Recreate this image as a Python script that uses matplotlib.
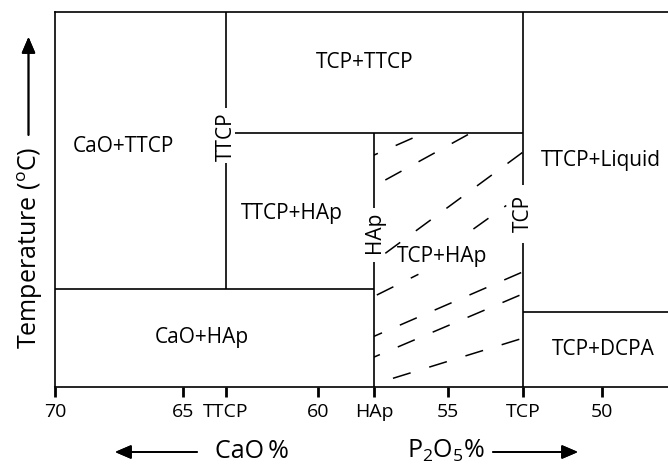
import matplotlib
matplotlib.use('Agg')
import matplotlib.pyplot as plt
from matplotlib.patches import Rectangle

plt.rcParams['font.family'] = ['Open Sans', 'DejaVu Sans']
plt.rcParams['mathtext.fontset'] = 'custom'
plt.rcParams['mathtext.rm'] = 'Open Sans'
plt.rcParams['lines.scale_dashes'] = False

# composition axis (CaO %, decreasing to the right) and schematic temperature axis
x_left, x_right = 70, 47.6
tick_pos = [70, 65.32, 63.75, 60.38, 58.34, 55.63, 52.89, 50]
tick_labels = ['70', '65', 'TTCP', '60', 'HAp', '55', 'TCP', '50']

x_ttcp, x_hap, x_tcp = 63.75, 58.34, 52.89
y_top = 100
y_ttcp_hap = 67.7      # TCP+TTCP / TTCP+HAp boundary
y_cao_hap = 26.1       # CaO+HAp upper boundary
y_tcp_dcpa = 20.0      # TCP+DCPA upper boundary

# vertical phase lines: (x, y_from, y_to, gap_from, gap_to, label, label_y)
verticals = [
    (x_ttcp, y_cao_hap, y_top, 59.7, 74.4, 'TTCP', 66.7),
    (x_hap, 0, y_ttcp_hap, 33.3, 47.7, 'HAp', 41.3),
    (x_tcp, 0, y_top, 38.4, 53.9, 'TCP', 46.4),
]
# horizontal phase lines: (y, x_from, x_to)
horizontals = [
    (y_ttcp_hap, 63.42, x_tcp),
    (y_cao_hap, x_left, x_hap),
    (y_tcp_dcpa, x_tcp, x_right),
]

regions = ['CaO+TTCP', 'TCP+TTCP', 'TTCP+HAp', 'TTCP+Liquid', 'TCP+HAp', 'CaO+HAp', 'TCP+DCPA']
region_x = [67.51, 58.70, 61.33, 50.07, 55.85, 64.63, 49.96]
region_y = [64.0, 86.4, 46.4, 60.5, 34.7, 13.3, 9.9]

# hatch strokes in the TCP+HAp field: (x0, y0, x1, y1)
hatch = [
    (57.65, 2.32, 53.00, 12.80),
    (58.75, 6.72, 52.94, 24.72),
    (58.67, 12.48, 52.94, 30.59),
    (58.24, 24.53, 56.72, 30.05),
    (57.93, 35.65, 52.88, 62.75),
    (54.71, 42.13, 53.51, 48.40),
    (57.93, 55.20, 54.89, 67.39),
    (58.82, 60.32, 56.90, 66.48),
]

fig = plt.figure(figsize=(6.68, 4.66), dpi=100)
ax = fig.add_axes([55 / 668, 79 / 466, 613 / 668, 375 / 466])
ax.set_xlim(x_left, x_right)
ax.set_ylim(0, y_top)

lw = 1.2
for side in ['left', 'bottom', 'top']:
    ax.spines[side].set_linewidth(lw)
ax.spines['right'].set_visible(False)
ax.set_yticks([])
ax.set_xticks(tick_pos)
ax.set_xticklabels(tick_labels, fontsize=14)
ax.tick_params(axis='x', direction='out', length=7.5, width=2, pad=4)

fs = 15
for x, y0, y1, g0, g1, lab, ly in verticals:
    ax.plot([x, x], [y0, g0], color='k', lw=lw, solid_capstyle='butt')
    ax.plot([x, x], [g1, y1], color='k', lw=lw, solid_capstyle='butt')
    ax.text(x, ly, lab, rotation=90, ha='center', va='center', fontsize=fs)
for y, x0, x1 in horizontals:
    ax.plot([x0, x1], [y, y], color='k', lw=lw, solid_capstyle='butt')

for lab, x, y in zip(regions, region_x, region_y):
    ax.text(x, y, lab, ha='center', va='center', fontsize=fs)

clip = Rectangle((x_tcp, 0), x_hap - x_tcp, y_ttcp_hap, transform=ax.transData, fill=False, lw=0)
ax.add_patch(clip)
for x0, y0, x1, y1 in hatch:
    ln, = ax.plot([x0, x1], [y0, y1], color='k', lw=1.1, dashes=(13.3, 14))
    ln.set_clip_path(clip)

# axis captions with arrows
fig.text(30 / 668, 1 - 248 / 466, r'Temperature ($\mathregular{^o}$C)', rotation=90,
         ha='center', va='center', fontsize=18)
fig.text(252 / 668, 1 - 451 / 466, 'CaO\u2009%', ha='center', va='center', fontsize=18)
fig.text(446 / 668, 1 - 451 / 466, r'P$\mathregular{_2}$O$\mathregular{_5}$%', ha='center',
         va='center', fontsize=18)
arrow = dict(arrowstyle='-|>,head_length=0.7,head_width=0.3', lw=1.3, color='k',
             mutation_scale=14, shrinkA=0, shrinkB=0)
fig.add_artist(plt.annotate('', xy=(28.5 / 668, 1 - 37 / 466), xytext=(28.5 / 668, 1 - 135 / 466),
                            xycoords='figure fraction', arrowprops=arrow))
fig.add_artist(plt.annotate('', xy=(115 / 668, 1 - 452 / 466), xytext=(197 / 668, 1 - 452 / 466),
                            xycoords='figure fraction', arrowprops=arrow))
fig.add_artist(plt.annotate('', xy=(578 / 668, 1 - 452 / 466), xytext=(493 / 668, 1 - 452 / 466),
                            xycoords='figure fraction', arrowprops=arrow))

fig.savefig('out.png', dpi=100)
